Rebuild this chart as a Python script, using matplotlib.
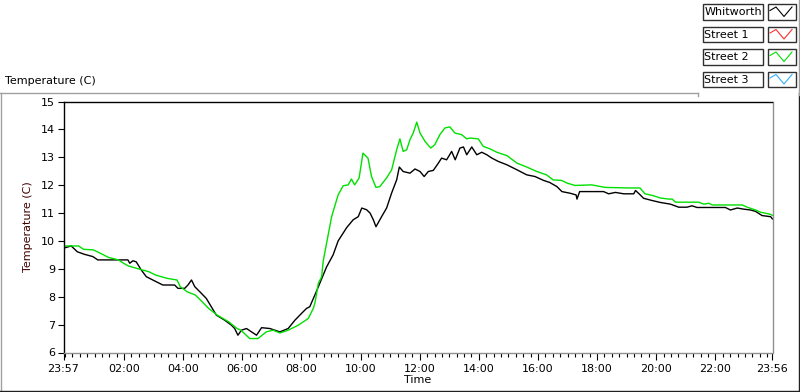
import matplotlib
matplotlib.use("Agg")
import matplotlib.pyplot as plt
from matplotlib.lines import Line2D
from matplotlib.patches import Rectangle

# ---------------- data (hours since midnight; 23:57 of previous day = -0.05) ----------------
whit_t = [-0.05, 0.21, 0.42, 0.66, 0.94, 1.11, 1.51, 2.13, 2.19, 2.30, 2.41, 2.58, 2.75, 2.97,
          3.31, 3.71, 3.82, 4.05, 4.16, 4.28, 4.39, 4.56, 4.78, 4.95, 5.12, 5.40, 5.63, 5.74,
          5.85, 5.97, 6.14, 6.31, 6.48, 6.65, 6.93, 7.27, 7.55, 7.78, 8.00, 8.17, 8.28, 8.51,
          8.85, 9.07, 9.24, 9.53, 9.75, 9.92, 10.04, 10.20, 10.32, 10.43, 10.52, 10.71, 10.88,
          11.05, 11.22, 11.31, 11.44, 11.67, 11.84, 12.01, 12.15, 12.29, 12.46, 12.63, 12.74,
          12.91, 13.08, 13.20, 13.36, 13.48, 13.59, 13.76, 13.93, 14.10, 14.27, 14.44, 14.66,
          14.95, 15.29, 15.62, 15.90, 16.19, 16.39, 16.64, 16.81, 17.09, 17.29, 17.32, 17.41,
          17.77, 18.22, 18.39, 18.62, 18.90, 19.24, 19.30, 19.46, 19.57, 19.86, 20.14, 20.48,
          20.76, 21.04, 21.21, 21.38, 22.34, 22.51, 22.74, 22.96, 23.19, 23.36, 23.58, 23.87,
          23.93]
whit_v = [9.74, 9.82, 9.61, 9.52, 9.44, 9.32, 9.32, 9.32, 9.20, 9.29, 9.25, 8.96, 8.72, 8.60,
          8.42, 8.42, 8.30, 8.30, 8.42, 8.60, 8.36, 8.18, 7.94, 7.64, 7.34, 7.16, 6.98, 6.86,
          6.62, 6.80, 6.86, 6.74, 6.62, 6.89, 6.86, 6.74, 6.86, 7.16, 7.40, 7.58, 7.64, 8.20,
          9.07, 9.50, 10.00, 10.48, 10.76, 10.87, 11.18, 11.12, 11.00, 10.76, 10.51, 10.87, 11.18,
          11.72, 12.19, 12.65, 12.49, 12.43, 12.58, 12.49, 12.31, 12.49, 12.53, 12.79, 12.97,
          12.91, 13.21, 12.91, 13.33, 13.37, 13.09, 13.37, 13.09, 13.18, 13.09, 12.97, 12.85,
          12.73, 12.55, 12.37, 12.31, 12.17, 12.10, 11.95, 11.77, 11.71, 11.65, 11.50, 11.77,
          11.77, 11.77, 11.69, 11.74, 11.69, 11.69, 11.81, 11.65, 11.53, 11.45, 11.38, 11.32,
          11.21, 11.21, 11.26, 11.20, 11.20, 11.11, 11.18, 11.14, 11.11, 11.06, 10.91, 10.87,
          10.79]

st2_t = [-0.05, 0.46, 0.63, 0.96, 1.25, 1.47, 1.81, 1.98, 2.15, 2.55, 2.83, 3.06, 3.45, 3.79,
         3.90, 4.13, 4.41, 4.64, 4.86, 5.15, 5.54, 5.82, 5.95, 6.25, 6.53, 6.81, 7.04, 7.27,
         7.55, 7.89, 8.23, 8.40, 8.46, 8.57, 8.68, 8.74, 8.85, 9.02, 9.24, 9.41, 9.58, 9.69,
         9.80, 9.95, 10.08, 10.25, 10.37, 10.52, 10.65, 10.88, 11.05, 11.22, 11.33, 11.44,
         11.56, 11.67, 11.78, 11.90, 12.01, 12.18, 12.37, 12.51, 12.68, 12.85, 13.02, 13.19,
         13.42, 13.59, 13.70, 13.98, 14.15, 14.38, 14.61, 14.95, 15.29, 15.62, 15.96, 16.29,
         16.51, 16.80, 16.97, 17.25, 17.82, 18.27, 19.06, 19.45, 19.62, 19.91, 20.14, 20.43,
         20.54, 20.65, 21.44, 21.61, 21.78, 21.90, 22.91, 23.08, 23.36, 23.53, 23.81, 23.93]
st2_v = [9.82, 9.82, 9.70, 9.68, 9.53, 9.41, 9.32, 9.20, 9.10, 8.98, 8.90, 8.78, 8.66, 8.60,
         8.36, 8.18, 8.06, 7.82, 7.58, 7.34, 7.10, 6.86, 6.80, 6.50, 6.50, 6.74, 6.80, 6.70,
         6.80, 6.98, 7.22, 7.58, 7.80, 8.48, 8.71, 9.31, 9.92, 10.87, 11.65, 11.98, 12.01, 12.22,
         12.01, 12.26, 13.15, 12.97, 12.31, 11.92, 11.95, 12.26, 12.55, 13.27, 13.66, 13.21,
         13.27, 13.63, 13.87, 14.26, 13.87, 13.57, 13.33, 13.45, 13.81, 14.05, 14.09, 13.87,
         13.81, 13.66, 13.69, 13.66, 13.39, 13.30, 13.18, 13.06, 12.79, 12.65, 12.49, 12.37,
         12.19, 12.17, 12.08, 11.99, 12.01, 11.92, 11.90, 11.90, 11.69, 11.62, 11.54, 11.50,
         11.50, 11.39, 11.39, 11.32, 11.35, 11.29, 11.29, 11.21, 11.11, 11.03, 10.97, 10.92]

legend_names = ["Whitworth", "Street 1", "Street 2", "Street 3"]
legend_colors = ["#000000", "#ff3030", "#00e000", "#30b0ff"]

x_major = [-0.05, 2, 4, 6, 8, 10, 12, 14, 16, 18, 20, 22, 23.9333]
x_major_labels = ["23:57", "02:00", "04:00", "06:00", "08:00", "10:00", "12:00",
                  "14:00", "16:00", "18:00", "20:00", "22:00", "23:56"]
y_ticks = [6, 7, 8, 9, 10, 11, 12, 13, 14, 15]

# ---------------- figure ----------------
W, H = 800, 392
plt.rcParams['font.family'] = ['DejaVu Sans']
fig = plt.figure(figsize=(W / 100, H / 100), dpi=100)
fig.patch.set_facecolor("white")


def fx(px):
    return px / W


def fy(py):
    return 1 - py / H


ax_l, ax_r, ax_t, ax_b = 63.5, 772.5, 101.5, 352.5
ax = fig.add_axes([fx(ax_l), fy(ax_b), fx(ax_r) - fx(ax_l), fy(ax_t) - fy(ax_b)])
ax.plot(whit_t, whit_v, color=legend_colors[0], lw=1.0)
ax.plot(st2_t, st2_v, color=legend_colors[2], lw=1.0)

ax.set_xlim(x_major[0], x_major[-1])
ax.set_ylim(6, 15)
ax.set_xticks(x_major)
ax.set_xticklabels(x_major_labels)
ax.set_xticks([i * 0.25 for i in range(0, 96)], minor=True)
ax.set_yticks(y_ticks)
ax.set_yticklabels([str(v) for v in y_ticks])
ax.tick_params(axis="x", which="major", direction="out", length=5, width=0.8, pad=3,
               labelsize=8, colors="black")
ax.tick_params(axis="x", which="minor", direction="out", length=3, width=0.8)
ax.tick_params(axis="y", which="major", direction="out", length=4, width=0.8, pad=2,
               labelsize=8)
for s in ["left", "top"]:
    ax.spines[s].set_color("black")
    ax.spines[s].set_linewidth(1.0)
for s in ["right", "bottom"]:
    ax.spines[s].set_color("#909090")
    ax.spines[s].set_linewidth(1.0)

ax.set_ylabel("Temperature (C)", fontsize=8, color="#400000", labelpad=6)
ax.set_xlabel("Time", fontsize=8, labelpad=1)

# chart caption
fig.text(fx(5), fy(81), "Temperature (C)", fontsize=8, ha="left", va="center")

# panel frame lines
def fline(x0, y0, x1, y1, color, lw=1.0):
    fig.add_artist(Line2D([fx(x0), fx(x1)], [fy(y0), fy(y1)], color=color, lw=lw,
                          transform=fig.transFigure))

fline(0, 92.5, 698, 92.5, "#a0a0a0")
fline(0.5, 92.5, 0.5, 392, "#a0a0a0")
fline(0, 390.5, 800, 390.5, "#202020")
fline(799.3, 92.5, 799.3, 392, "#202020")
fline(798.5, 0, 798.5, 95, "#a0a0a0")
fline(698, 92.5, 698, 96, "#a0a0a0")

# legend
for i, (name, col) in enumerate(zip(legend_names, legend_colors)):
    top = 4 + i * 22.5
    bot = top + 15.5
    fig.add_artist(Rectangle((fx(702.5), fy(bot)), fx(762.5) - fx(702.5), fy(top) - fy(bot),
                             transform=fig.transFigure, facecolor="white",
                             edgecolor="#303030", lw=1.0))
    fig.text(fx(704.5), fy((top + bot) / 2 + 0.5), name, fontsize=8, ha="left", va="center")
    fig.add_artist(Rectangle((fx(767.5), fy(bot)), fx(796) - fx(767.5), fy(top) - fy(bot),
                             transform=fig.transFigure, facecolor="white",
                             edgecolor="#303030", lw=1.0))
    zx = [770, 776, 784, 792]
    zy = [bot - 9, top + 3, bot - 3, top + 3]
    fig.add_artist(Line2D([fx(v) for v in zx], [fy(v) for v in zy], color=col, lw=0.8,
                          transform=fig.transFigure))

fig.savefig("out.png", dpi=100, facecolor="white")
